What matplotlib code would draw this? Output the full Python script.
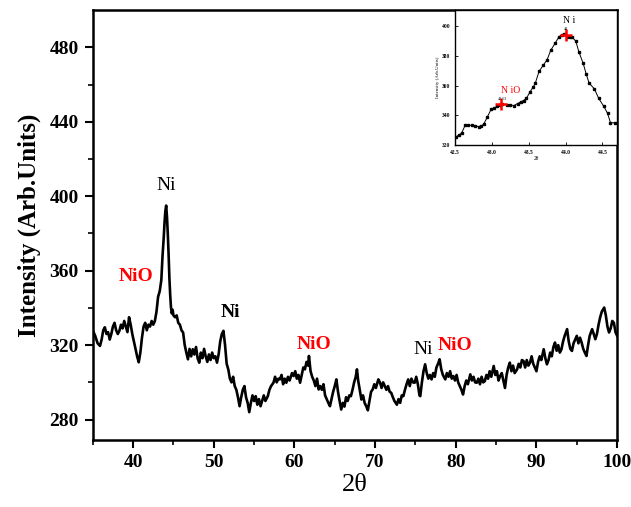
import numpy as np
import matplotlib
matplotlib.use("Agg")
import matplotlib.pyplot as plt

plt.rcParams['font.family'] = 'Liberation Serif'

# main XRD pattern
two_theta = [35.0, 35.3, 35.6, 35.9, 36.1, 36.3, 36.5, 36.7, 36.9, 37.1,
             37.3, 37.5, 37.7, 37.9, 38.1, 38.3, 38.5, 38.7, 38.9, 39.1,
             39.3, 39.5, 39.7, 39.9, 40.1, 40.3, 40.5, 40.7, 40.9, 41.1,
             41.3, 41.5, 41.7, 41.9, 42.1, 42.3, 42.5, 42.7, 42.9, 43.1,
             43.3, 43.5, 43.65, 43.8, 43.9, 44.0, 44.1, 44.2, 44.3, 44.4,
             44.5, 44.6, 44.7, 44.8, 44.9, 45.0, 45.2, 45.4, 45.6, 45.8,
             46.0, 46.2, 46.4, 46.6, 46.8, 47.0, 47.2, 47.4, 47.6, 47.8,
             48.0, 48.2, 48.4, 48.6, 48.8, 49.0, 49.2, 49.4, 49.6, 49.8,
             50.0, 50.2, 50.4, 50.6, 50.8, 51.0, 51.2, 51.4, 51.6, 51.8,
             52.0, 52.2, 52.4, 52.6, 52.8, 53.0, 53.2, 53.4, 53.6, 53.8,
             54.0, 54.2, 54.4, 54.6, 54.8, 55.0, 55.2, 55.4, 55.6, 55.8,
             56.0, 56.2, 56.4, 56.7, 56.9, 57.1, 57.4, 57.6, 57.8, 58.0,
             58.2, 58.4, 58.6, 58.8, 59.0, 59.2, 59.4, 59.7, 59.9, 60.1,
             60.3, 60.5, 60.7, 60.9, 61.1, 61.3, 61.5, 61.7, 61.8, 62.0,
             62.2, 62.4, 62.6, 62.8, 63.0, 63.2, 63.4, 63.6, 63.8, 64.0,
             64.2, 64.4, 64.6, 64.8, 65.0, 65.2, 65.4, 65.6, 65.8, 66.0,
             66.2, 66.4, 66.6, 66.8, 67.0, 67.2, 67.4, 67.6, 67.75, 67.9,
             68.1, 68.3, 68.5, 68.7, 68.9, 69.1, 69.3, 69.5, 69.7, 69.9,
             70.1, 70.4, 70.6, 70.8, 71.0, 71.2, 71.4, 71.6, 71.8, 72.0,
             72.2, 72.4, 72.7, 72.9, 73.1, 73.3, 73.5, 73.7, 73.9, 74.1,
             74.3, 74.5, 74.7, 74.9, 75.1, 75.3, 75.5, 75.6, 75.8, 76.0,
             76.2, 76.4, 76.6, 76.8, 77.0, 77.2, 77.4, 77.6, 77.8, 78.0,
             78.2, 78.4, 78.7, 78.9, 79.1, 79.3, 79.5, 79.7, 79.9, 80.1,
             80.3, 80.5, 80.7, 80.9, 81.1, 81.3, 81.5, 81.8, 82.0, 82.2,
             82.4, 82.6, 82.8, 83.0, 83.2, 83.4, 83.6, 83.8, 84.0, 84.2,
             84.4, 84.7, 84.9, 85.1, 85.3, 85.5, 85.7, 85.9, 86.1, 86.3,
             86.5, 86.7, 86.9, 87.1, 87.3, 87.6, 87.8, 88.0, 88.2, 88.4,
             88.6, 88.8, 89.0, 89.2, 89.4, 89.6, 89.8, 90.0, 90.2, 90.4,
             90.6, 90.9, 91.1, 91.3, 91.5, 91.7, 91.9, 92.1, 92.3, 92.5,
             92.7, 92.9, 93.1, 93.3, 93.5, 93.8, 94.0, 94.2, 94.4, 94.6,
             94.8, 95.0, 95.2, 95.4, 95.6, 95.8, 96.0, 96.2, 96.4, 96.6,
             96.9, 97.1, 97.3, 97.5, 97.7, 97.9, 98.1, 98.4, 98.6, 98.8,
             99.0, 99.2, 99.4, 99.6, 99.8, 100.0]
intensity = [328, 325, 321, 319.6, 323, 328, 329.6, 326, 327, 323,
             326, 330, 332, 328, 326, 327.7, 331, 329, 333, 330,
             327, 335, 331, 326, 322, 318, 314, 310.8, 316, 324,
             330, 332, 328, 331, 330, 333, 331, 333, 338, 346,
             349, 355, 368, 378, 386, 392, 395, 389, 380, 369,
             356, 347, 340, 337, 339, 336, 335, 336, 332, 331,
             328, 326.8, 320, 316, 312.4, 318, 314, 317.8, 315, 319,
             313, 310.6, 316, 313, 318, 314, 311, 315, 312, 316,
             313, 314, 310.6, 315, 322, 326, 327.7, 320, 310, 307,
             302, 300, 303, 298, 296, 292, 287.2, 292, 296, 298,
             292, 289, 284, 289, 293, 290, 292.6, 288, 291, 287.2,
             290, 293, 290, 292.6, 296, 298, 299.8, 303, 300, 302,
             301.6, 304, 299, 302, 299.8, 303, 301, 305, 303.4, 306,
             302, 304, 299.8, 304, 308, 307, 311, 309, 314.2, 306,
             303, 301, 298, 302, 296.2, 298, 296, 299, 293, 291,
             289, 287.2, 291, 295, 298, 301.6, 295, 290, 285.4, 289,
             287, 292, 290, 293, 292.6, 296, 300, 303, 307, 301,
             296, 290.8, 293, 289, 287.2, 285, 290, 295, 296.2, 299,
             297, 301.6, 300, 297, 300, 298, 296, 298, 295, 294.4,
             292, 290, 288, 291, 289, 293, 292.6, 296, 299, 301.6,
             298, 302, 300, 299.8, 303, 299, 293, 292.6, 300, 306,
             309.7, 305, 302, 304, 301.6, 305, 303, 308, 310, 312.4,
             307, 304, 301.6, 305, 303, 306, 302, 303.4, 301, 304,
             300, 298, 296, 293.5, 298, 301, 299, 304.3, 301, 303,
             300, 299.8, 302, 299, 303, 300, 300.7, 304, 302, 306,
             303, 308.8, 304, 306, 301, 303.4, 305, 301, 297, 304,
             308, 310.6, 306, 309, 305, 307, 310, 308, 312, 311.5,
             308, 312, 309, 310.6, 314, 310, 308, 306, 311, 314,
             312, 317.8, 313, 309.7, 312, 316, 314, 319, 321.4, 317,
             320, 316, 317.8, 322, 325, 328.6, 322, 318, 316.9, 321,
             323, 325, 321, 324, 321.4, 318, 316, 314.2, 320, 325,
             328.6, 326, 323.2, 326, 331, 335, 338, 340.2, 336, 330,
             326.8, 329, 333, 332, 327, 325]

# peak labels
labels = ["Ni", "NiO", "Ni", "NiO", "Ni", "NiO"]
label_x = [44.1, 40.4, 52.0, 62.4, 75.9, 79.9]
label_y = [406.0, 357.0, 337.5, 320.5, 317.5, 320.0]
label_col = ["black", "red", "black", "red", "black", "red"]
label_bold = [False, True, True, True, False, True]

# inset: zoom around the main peak
ins_x = [42.52, 42.56, 42.59, 42.64, 42.68, 42.73, 42.77, 42.82, 42.86, 42.89,
         42.94, 42.99, 43.03, 43.07, 43.11, 43.14, 43.2, 43.25, 43.3, 43.35,
         43.39, 43.43, 43.47, 43.52, 43.56, 43.59, 43.64, 43.7, 43.75, 43.8,
         43.86, 43.91, 43.95, 43.98, 44.02, 44.06, 44.09, 44.14, 44.18, 44.24,
         44.28, 44.32, 44.39, 44.45, 44.52, 44.57, 44.61, 44.67]
ins_y = [325.6, 327.0, 328.0, 333.5, 333.4, 333.3, 333.0, 332.4, 333.0, 334.0,
         339.0, 344.0, 345.0, 346.0, 347.0, 347.7, 347.0, 347.0, 346.6, 348.0,
         349.0, 350.0, 351.5, 356.0, 359.0, 361.7, 369.6, 374.0, 377.5, 384.0,
         388.7, 393.0, 394.5, 394.8, 392.8, 393.0, 392.8, 390.0, 383.0, 375.0,
         368.0, 361.7, 358.0, 351.5, 346.0, 341.4, 335.0, 335.0]
cross_x = [43.13, 44.0]
cross_y = [347.6, 394.5]

fig = plt.figure(figsize=(6.31, 5.07), dpi=100)
ax = fig.add_axes([0.147, 0.132, 0.831, 0.848])
ax.plot(two_theta, intensity, color='black', lw=1.9)
ax.set_xlim(35, 100)
ax.set_ylim(269, 500)
ax.set_xticks(range(40, 101, 10))
ax.set_xticks(range(35, 101, 5), minor=True)
ax.set_yticks(range(280, 481, 40))
ax.set_yticks(range(280, 500, 20), minor=True)
ax.tick_params(which='major', direction='out', length=6, width=1.5,
               labelsize=14, pad=4)
ax.tick_params(which='minor', direction='out', length=3.5, width=1.2)
for t in ax.get_xticklabels() + ax.get_yticklabels():
    t.set_fontweight('bold')
for s in ax.spines.values():
    s.set_linewidth(1.8)
ax.set_xlabel('2θ', fontsize=19, labelpad=2)
ax.set_ylabel('Intensity (Arb.Units)', fontsize=18, fontweight='bold', labelpad=6)

for txt, x, y, c, b in zip(labels, label_x, label_y, label_col, label_bold):
    ax.text(x, y, txt, color=c, ha='center', va='center', fontsize=14,
            fontweight='bold' if b else 'normal')

# inset
axi = fig.add_axes([0.721, 0.714, 0.257, 0.266])
axi.plot(ins_x, ins_y, color='black', lw=0.7, marker='s', ms=1.6)
axi.plot(cross_x, cross_y, ls='none', marker='+', color='red', ms=8, mew=1.8)
axi.set_xlim(42.5, 44.7)
axi.set_ylim(320, 411)
axi.set_xticks([42.5, 43.0, 43.5, 44.0, 44.5])
axi.set_yticks([320, 340, 360, 380, 400])
axi.tick_params(direction='in', length=2, width=0.6, labelsize=4)
for t in axi.get_xticklabels() + axi.get_yticklabels():
    t.set_fontweight('bold')
for s in axi.spines.values():
    s.set_linewidth(1.0)
axi.set_xlabel('2θ', fontsize=4, labelpad=1)
axi.set_ylabel('Intensity (Arb.Units)', fontsize=3.5, labelpad=1)
axi.text(43.25, 357, 'N iO', color='red', fontsize=7, ha='center', va='center')
axi.text(43.15, 351, '43.13', color='black', fontsize=3, ha='center', va='center')
axi.text(44.05, 404, 'N i', color='black', fontsize=7, ha='center', va='center')
axi.text(44.0, 398.5, '44', color='black', fontsize=3, ha='center', va='center')

fig.savefig('out.png', dpi=100)
